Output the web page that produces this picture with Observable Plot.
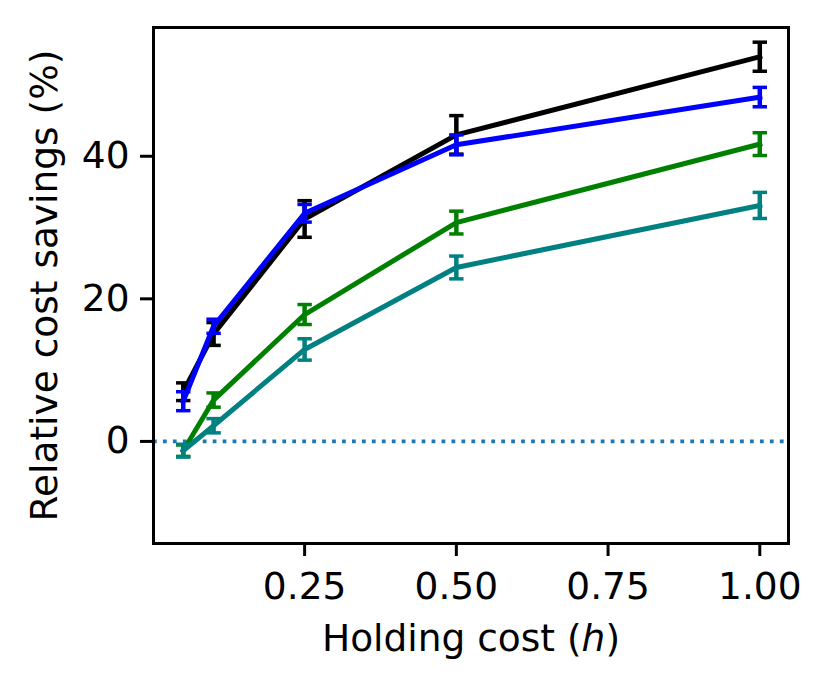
<!DOCTYPE html>
<html>
<head>
<meta charset="utf-8">
<script src="https://cdn.jsdelivr.net/npm/d3@7"></script>
<script src="https://cdn.jsdelivr.net/npm/@observablehq/plot@0.6"></script>
<style>
  html, body { margin: 0; padding: 0; background: #fff; }
  #chart svg { display: block; }
</style>
</head>
<body>
<div id="chart"></div>
<script>
// Holding cost values (x)
const holdingCost = [0.05, 0.1, 0.25, 0.5, 1.0];

// Series means and error half-widths (relative cost savings, %)
const blackMean = [6.97, 15.07, 31.2, 43.0, 53.96];
const blackErr  = [1.24, 1.6, 2.57, 2.7, 2.04];
const blueMean  = [5.64, 16.15, 32.0, 41.6, 48.3];
const blueErr   = [1.33, 0.99, 1.24, 1.4, 1.36];
const greenMean = [-1.3, 5.8, 17.8, 30.7, 41.7];
const greenErr  = [0.8, 1.0, 1.4, 1.6, 1.6];
const tealMean  = [-1.3, 2.2, 12.9, 24.4, 33.1];
const tealErr   = [0.9, 1.0, 1.5, 1.6, 1.83];

const seriesColors = ["black", "#0000ff", "#008000", "#008080"];
const seriesMeans = [blackMean, blueMean, greenMean, tealMean];
const seriesErrs = [blackErr, blueErr, greenErr, tealErr];

const xTicks = [0.25, 0.5, 0.75, 1.0];
const yTicks = [0, 20, 40];

const series = seriesColors.map((color, i) =>
  holdingCost.map((h, j) => ({
    h, color,
    mean: seriesMeans[i][j],
    lo: seriesMeans[i][j] - seriesErrs[i][j],
    hi: seriesMeans[i][j] + seriesErrs[i][j]
  }))
);

// Horizontal cap symbol for error bars
const capSymbol = {
  draw(context, size) {
    const r = Math.sqrt(size / Math.PI);
    context.moveTo(-r, 0);
    context.lineTo(r, 0);
  }
};

const seriesMarks = series.flatMap((d) => {
  const c = d[0].color;
  return [
    Plot.line(d, {x: "h", y: "mean", stroke: c, strokeWidth: 5, strokeLinejoin: "round", strokeLinecap: "square"}),
    Plot.ruleX(d, {x: "h", y1: "lo", y2: "hi", stroke: c, strokeWidth: 4.5}),
    Plot.dot(d, {x: "h", y: "lo", symbol: capSymbol, r: 7.2, stroke: c, fill: "none", strokeWidth: 3.5}),
    Plot.dot(d, {x: "h", y: "hi", symbol: capSymbol, r: 7.2, stroke: c, fill: "none", strokeWidth: 3.5})
  ];
});

const chart = Plot.plot({
  width: 829,
  height: 690,
  marginLeft: 153,
  marginRight: 41,
  marginTop: 27,
  marginBottom: 147,
  style: {fontFamily: "DejaVu Sans", fontSize: "37.5px", background: "#fff", color: "black"},
  x: {domain: [0.001, 1.0473], axis: null},
  y: {domain: [-14.32, 58.06], axis: null},
  marks: [
    Plot.ruleY([0], {stroke: "#1f77b4", strokeWidth: 3.75, strokeDasharray: "3.75,6.2"}),
    ...seriesMarks,
    Plot.frame({stroke: "black", strokeWidth: 3}),
    Plot.axisX(xTicks, {anchor: "bottom", tickSize: 13, tickPadding: 16, strokeWidth: 3, stroke: "black", tickFormat: d3.format(".2f"), label: null}),
    Plot.axisY(yTicks, {anchor: "left", tickSize: 13, tickPadding: 11, strokeWidth: 3, stroke: "black", tickFormat: d3.format("d"), label: null}),
    Plot.text(["Holding cost (h)"], {frameAnchor: "bottom", dy: 107, lineAnchor: "bottom", textAnchor: "middle", fill: "black"}),
    Plot.text(["Relative cost savings (%)"], {frameAnchor: "left", dx: -97, rotate: -90, lineAnchor: "bottom", textAnchor: "middle", fill: "black"})
  ]
});

document.getElementById("chart").appendChild(chart);

// Italicize the "h" in the x label
chart.querySelectorAll("text").forEach((t) => {
  if (t.textContent === "Holding cost (h)") {
    t.textContent = "";
    const ns = "http://www.w3.org/2000/svg";
    const a = document.createElementNS(ns, "tspan"); a.textContent = "Holding cost (";
    const b = document.createElementNS(ns, "tspan"); b.textContent = "h"; b.setAttribute("font-style", "italic");
    const c = document.createElementNS(ns, "tspan"); c.textContent = ")";
    t.append(a, b, c);
  }
});
</script>
</body>
</html>
